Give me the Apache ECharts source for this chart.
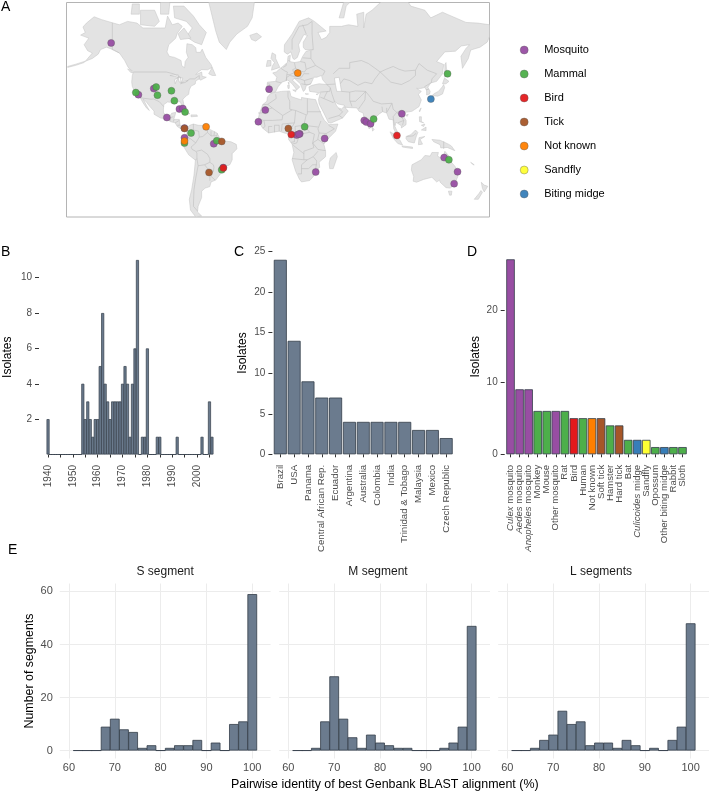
<!DOCTYPE html>
<html><head><meta charset="utf-8">
<style>html,body{margin:0;padding:0;background:#fff}#c{width:709px;height:793px}</style>
<script src="https://cdn.jsdelivr.net/npm/echarts@6/dist/echarts.min.js"></script>
</head><body><div id="c"></div>
<script>
const FONT='"Liberation Sans",Helvetica,Arial,sans-serif';
const SLATE='#6b7b8e', EDGE='#333d49', TICKTXT='#4d4d4d';
const HOST={Mosquito:'#984ea3',Mammal:'#4daf4a',Bird:'#e41a1c',Tick:'#a65628','Not known':'#ff7f00',Sandfly:'#ffff33','Biting midge':'#377eb8'};
const hostNames=Object.keys(HOST);

// sampling sites, [lon, lat]
const sitesMosquito=[[-142,62.7],[-118.8,34.7],[-105.7,38.9],[-83.9,24.1],[-81,24.5],[-94.6,17.4],[-79.6,8.6],[-79.6,0.4],[-54.7,-4.7],[-46.6,-24.2],[-7.6,38.5],[-10.8,23.3],[-16.7,13.9],[15.9,2.7],[18.5,3.8],[17.8,3.5],[39.7,-0.2],[32.1,-27.6],[73.4,15],[75.1,13.7],[78.8,12.3],[105.4,20.4],[141.4,-16.2],[152.8,-27.4],[149.9,-36]];
const sitesMammal=[[-121,36.2],[-103.7,39.9],[-102.6,34.4],[-90.7,37.4],[-88.2,30.4],[-79.1,21.8],[-74,4.4],[-52.1,-2.1],[-79.6,-4.1],[-47.9,-25.9],[22.7,9.7],[81.4,16.1],[144.3,48],[145.4,-18]];
const sitesBird=[[-46.5,-24.5],[11.3,3.2],[101.2,2.4]];
const sitesTick=[[-79.6,8.3],[-47.9,-2.7],[-58.7,-27.9],[8.8,8.3]];
const sitesUnknown=[[-61.2,9.7],[-79.6,-2.4],[16.8,48.4]];
const sitesSandfly=[];
const sitesMidge=[[130.1,31.6]];

const yearLabels=[];for(let y=1940;y<=2006;y++)yearLabels.push(String(y));
const isolatesByYear={1940:2,1954:4,1955:2,1956:3,1957:2,1958:1,1959:2,1960:2,1961:5,1962:8,1963:4,1964:3,1965:2,1966:3,1967:3,1968:3,1969:3,1970:4,1971:5,1972:4,1973:1,1974:4,1975:6,1976:11,1978:1,1979:1,1980:6,1984:1,1985:1,1992:1,2002:1,2005:3,2006:1};

const countries=['Brazil','USA','Panama','Central African Rep.','Ecuador','Argentina','Australia','Colombia','India','Trinidad & Tobago','Malaysia','Mexico','Czech Republic'];
const countryValues=[24,14,9,7,7,4,4,4,4,4,3,3,2];

const hosts=['Culex mosquito','Aedes mosquito','Anopheles mosquito','Monkey','Mouse','Other mosquito','Rat','Bird','Human','Not known','Soft tick','Hamster','Hard tick','Bat','Culicoides midge','Sandfly','Opossum','Other biting midge','Rabbit','Sloth'];
const hostValues=[27,9,9,6,6,6,6,5,5,5,5,4,4,2,2,2,1,1,1,1];
const hostGroups=['Mosquito','Mosquito','Mosquito','Mammal','Mammal','Mosquito','Mammal','Bird','Mammal','Not known','Tick','Mammal','Tick','Mammal','Biting midge','Sandfly','Mammal','Biting midge','Mammal','Mammal'];

const binCentres=[62,64,66,68,70,72,74,76,78,80,82,84,86,88,90,92,94,96,98,100];
const segS=[0,0,0,9,12,8,7,1,2,0,1,2,2,4,0,3,0,10,11,59];
const segM=[0,0,1,11,28,12,5,1,6,3,2,1,1,0,0,0,1,3,9,47];
const segL=[0,0,1,4,6,15,10,11,2,3,3,1,4,2,0,1,0,4,9,48];

// base map, [lon, lat] outlines
const land=[
[[-168,65.6],[-164,66.5],[-166,68.3],[-163,69.5],[-156.5,71.3],[-150,70.5],[-141,69.6],[-135,69],[-128,70],[-120,69.5],[-115,68],[-108,68],[-100,68],[-96,68],[-94,71.5],[-90,69],[-85,69.5],[-81.5,68.5],[-86,66],[-87,64.5],[-93,62],[-94.5,59],[-92.5,57],[-88,56.5],[-82.5,55],[-82,52.5],[-79.5,51.3],[-79,54.5],[-76.5,56.5],[-78,58.8],[-77.5,62.4],[-73,62],[-70,60.8],[-69.5,58.8],[-66,58.8],[-64.5,60.2],[-61.5,56.5],[-57,53],[-56,51.5],[-60,50.2],[-65,50.3],[-68,49],[-70,47.5],[-65,49],[-64.5,46.5],[-61,46],[-66,44.2],[-67,45],[-70,43.8],[-70.5,41.8],[-74,40.5],[-75.5,38],[-76,35],[-78,33.9],[-81,31.5],[-80,27],[-80.5,25.2],[-82,26.5],[-83,29.5],[-85,29.7],[-89,30.2],[-90,29.1],[-94,29.5],[-97.2,27.5],[-97.5,24],[-97.5,21.5],[-95.5,18.7],[-92,18.6],[-90.5,20.8],[-87,21.5],[-88,18],[-88.8,15.9],[-84,15.8],[-83.3,11],[-81.5,9],[-79.5,9.5],[-77.4,8.7],[-78.2,7.5],[-80.3,7.4],[-83,8.3],[-85.8,10],[-87.5,13],[-91.5,14],[-94.5,16.2],[-100,17],[-105.5,20],[-105.5,22.5],[-109,26],[-112.5,30],[-114.7,31.5],[-112,27],[-109.5,23],[-112,25],[-115,29],[-117.2,32.5],[-120.5,34.5],[-122.5,37.7],[-124,40.3],[-124.5,43],[-124,47],[-123,49],[-127.5,51.5],[-130.5,55],[-135,58.5],[-139.5,59.8],[-146,61],[-151,60],[-153,58],[-158,56],[-164,54.6],[-158,58.5],[-162,59.5],[-165,62],[-161,64.5]],
[[-179,51.5],[-172,52.6],[-165,54],[-164,54.7],[-172,53.2],[-179,52]],
[[-61,66.5],[-65,62],[-71,63],[-78,65],[-73,68],[-78,70],[-88,71],[-89,74],[-80,74],[-72,71.5],[-67,69]],
[[-117,69],[-105,68.5],[-101,70],[-105,73],[-117,73]],
[[-125,72],[-118,72],[-118,74.5],[-124,74.5]],
[[-100,72],[-93,72],[-92,75],[-100,76]],
[[-110,75],[-105,75],[-105,78],[-115,78]],
[[-85,76],[-80,74.8],[-92,74.8],[-92,78]],
[[-80,68],[-74,64.5],[-83,64],[-85,66]],
[[-73,78],[-68,76],[-60,76],[-55,70],[-53,67],[-50,63],[-44,60],[-41,63],[-35,66],[-26,68.5],[-22,71],[-20,75],[-18,80],[-60,82]],
[[-59,48],[-56,51.5],[-53,47],[-56,47]],
[[-85,22],[-80,23],[-75,20.5],[-78,20],[-82,22.3]],
[[-74,19.5],[-69,19.5],[-68.5,18.3],[-74,18]],
[[-128,50.7],[-125,50],[-123.5,48.5],[-125.5,48.8]],
[[-24,65.5],[-18,66.3],[-14,65],[-19,63.4],[-22.5,64]],
[[-77.4,8.7],[-75,11],[-72,12],[-68,11],[-62,10.7],[-60,8.5],[-55,6],[-52,4.5],[-50,1],[-48,-1],[-44,-2.5],[-40,-3],[-35.5,-5.2],[-35,-9],[-39,-13],[-39,-18],[-41,-22],[-45,-23.5],[-48.5,-26],[-49,-29],[-53,-33.5],[-57,-34.8],[-58,-38],[-62,-39],[-65,-41],[-65,-45],[-68,-50],[-68.5,-53],[-65,-55],[-70,-55.5],[-74.5,-52],[-75.5,-46],[-73.5,-40],[-71.5,-30],[-70.3,-18.3],[-76,-14],[-81,-6],[-80.5,-2],[-80,1],[-77.5,4],[-77.5,7]],
[[-6,35.8],[3,37],[10,37.3],[11,33.5],[15,32.3],[20,31],[20,32.8],[25,32],[32,31.2],[32.5,30],[35,24],[37.5,18.5],[39.5,15],[43.3,11.5],[51,12],[49,6],[42,-1],[39,-5],[40.5,-11],[40.5,-15.5],[35,-20],[35.5,-24],[32.8,-26],[32,-29],[27,-33.8],[20,-34.8],[18.3,-33],[15,-27],[12,-18],[13.5,-12],[12,-5],[9,-1],[9.5,4],[6,4.3],[1,6],[-4,5.2],[-8,4.5],[-13,8.5],[-17,14.7],[-16,20],[-13,27.5],[-9.5,30],[-9,33]],
[[49.5,-12],[50.5,-15.5],[47,-25],[44,-25],[43.5,-21],[44.5,-16.5]],
[[-9,37],[-9.5,39],[-9,43],[-2,43.5],[-1,46],[-4.5,48.5],[-1.5,49],[2,51],[4,52],[8,54],[8.5,57],[10.5,57.5],[10,54.5],[14,54],[19,54.5],[21,57],[24,59.3],[30,60],[23,60],[21.5,61],[21.5,63],[25,65.5],[22,65.8],[17.5,62],[18.5,59.5],[16.5,56.5],[14,55.5],[12.7,56],[11,59],[8,58],[5.3,59],[5.5,62],[12,66],[18,70],[26,71],[31,70],[41,67],[34,66.5],[37,64],[41,64.8],[44,66.5],[44,68.5],[54,68.5],[60,69],[68,68.5],[67,72],[73,72.5],[73,68],[75,72],[80,73],[90,75.5],[104,77.5],[113,74],[125,73],[130,71],[140,72.5],[160,69.7],[170,69.5],[180,69],[180,65],[178,63],[172,61],[164,59.8],[162,56],[157,51],[155.7,57],[160,60.5],[163,62],[156,61.5],[151,59.3],[142,59],[135,54.5],[141,53],[140,48],[135,43.5],[130,42.5],[127.5,39.8],[129.5,37],[129,35.2],[126.5,34.5],[126.5,37.5],[125,39.6],[121.5,39],[118,39],[122,37],[119.5,35],[122,31],[120,26],[114,22.3],[108.5,21.6],[106,19.5],[109,15],[109,11.5],[105,8.7],[105,10.5],[100.5,13.5],[99.5,10],[103.5,1.5],[101,3],[98.5,8],[98,15.5],[94.5,16],[92.5,21],[89,22],[86.5,20.5],[80.5,15.5],[80,10],[77.5,8],[73,18],[72.5,21],[69,22.3],[67,25],[61,25.2],[57,25.5],[56.5,27],[51,28],[48,30],[50,26.5],[51.5,25],[54,24.2],[56.3,26],[59.8,22.5],[55,17],[45,12.8],[43,13],[39,21],[35,28],[34.5,31.3],[36,36],[31,36.5],[27,37],[26.3,40],[29,41],[35,42],[41.5,41.5],[38,44.5],[37,47],[33,46],[30.5,46],[28,42],[24,40.7],[23,38],[21.5,37],[19.5,41],[19,42],[13.7,45.5],[12.5,44],[18.5,40],[16,38],[12,42],[8.5,44.3],[3.3,43],[0,40],[-2,36.8],[-5.5,36]],
[[-5.5,50],[1.5,51.5],[0,53.5],[-2,56],[-2,57.7],[-5,58.6],[-6,56],[-3,54],[-5,52]],
[[-10,52],[-6,52.3],[-6,55],[-9,55]],
[[131,34],[136,33.7],[140,35.2],[141.8,39.5],[141,41.5],[139.8,40],[136.5,37],[133,35.5]],
[[130,33.5],[131.8,33.5],[131,31],[130.2,31.3]],
[[140,42],[143,42],[145.5,43.5],[141.7,45.5]],
[[142,46],[143.5,49],[143,54],[142,53]],
[[120,22.5],[121.8,25],[120.7,22]],[[108.7,19.2],[110.8,20],[110,18.3]],
[[80,9.5],[81.8,7.5],[80.5,6]],
[[95.3,5.5],[98,4],[104,-2],[106,-5.8],[102,-4.5],[98,0]],
[[105.5,-6.5],[114.5,-7.5],[114.5,-8.7],[106,-7.5]],
[[109,1.5],[113,3],[117,7],[119,5],[117.5,1],[116,-4],[111,-3],[109,-0.5]],
[[119.5,-5.5],[120,0.5],[125,1.5],[121,-1],[123,-5]],
[[120.3,18],[122,18],[122,14],[124,13],[120.5,14]],[[122,7],[126,9.5],[126,6.5]],[[122,11],[125,12],[124,10]],
[[131,-1],[138,-1.7],[145,-5],[147.5,-6.5],[150.5,-10.5],[144,-7.8],[138.5,-8.2],[138,-5.5],[132.5,-3]],
[[114,-22],[122,-18],[125,-14.5],[129.5,-15],[131,-12],[136.5,-12],[135.8,-15],[140,-17.5],[142,-11],[145.5,-15],[146.5,-19],[150,-22.5],[153.5,-27],[153,-31],[150,-37],[146.5,-39],[143,-38.7],[138,-35],[137.5,-33.5],[135,-34.8],[131,-31.5],[124,-33],[118,-35],[115,-34.3],[115.5,-31],[113.5,-26]],
[[145,-41],[148,-41],[147.5,-43.5],[146,-43.5]],
[[173,-35],[175.5,-37],[178.5,-37.8],[175.5,-41.5],[174,-39.3]],
[[172.7,-40.6],[174,-41.7],[170.5,-46],[167,-46],[171,-42.5]],
[[52,71],[56,71],[58,74],[68,76.5],[56,75]],
[[164,-20],[167,-22],[166,-22]],[[12.5,38],[15.5,38],[15,36.7]],[[8.2,41],[9.7,41],[9.5,39],[8.5,39]],
[[8.6,43],[9.5,42.8],[9.3,41.4]],[[23,35.4],[26,35.2],[24,35]],[[32.4,35],[34.5,35.6],[33.5,34.6]]
];
const water=[[[50,37],[54,37],[53,42],[52,46],[48,45.5],[49,41]],[[-92,47],[-85,47.5],[-84.5,46],[-88,46.5]],[[-87.5,42],[-85,46],[-84,43],[-82,43],[-81,45.5],[-85,45.8],[-88,44.5]],[[-83,42],[-79,42.8],[-76.5,44],[-80,43.5]]];
const borders=[
[[-123,49],[-95,49],[-89,48],[-83,46],[-82.5,42.5],[-79,43],[-75,45],[-71,45],[-67,47],[-67,45]],[[-141,69.6],[-141,60],[-135,58.5]],[[-117.2,32.5],[-108,31.5],[-106,31.7],[-101,29.7],[-97.3,26]],[[-92,14.5],[-91,17.5],[-89,18]],[[-89,14],[-88.5,15.8]],[[-87.5,13],[-84,15]],[[-85.7,11],[-83.6,11]],[[-83,8.3],[-82.5,9.5]],[[-77.4,8.7],[-77.5,7]],
[[-72,12],[-72,7],[-67.5,6],[-67,1]],[[-67,1],[-70,-4],[-75,0],[-78.5,1.2]],[[-75,0],[-78.5,-4.5],[-80.3,-3.4]],[[-67,1],[-64,1.5],[-60,5],[-60,8.5]],[[-60,5],[-57,2],[-52,2.2],[-51.5,4.3]],[[-57,2],[-57,6]],[[-54.5,2.3],[-54,5.8]],[[-70,-4],[-74,-7.5],[-73,-9.5],[-70,-11],[-69,-12.5],[-69,-17],[-70.3,-18.3]],[[-69.5,-11],[-65,-10],[-60,-13.5],[-58,-17],[-58,-20]],[[-69,-17],[-68,-22.8],[-62.5,-22],[-58,-20]],[[-62.5,-22],[-58,-27],[-55,-27],[-54.5,-24],[-55,-22],[-58,-20]],[[-68,-22.8],[-70,-32],[-71.5,-40],[-72,-50],[-68.5,-52.5]],[[-58,-34],[-58,-30],[-53.5,-33.5]],[[-55,-27],[-58,-30]],
[[-2,35],[-1.5,32],[-8.7,27.7]],[[-13,27.5],[-8.7,27.7],[-5,25],[-12,23],[-13,21],[-17,21]],[[-5,25],[4,19],[3.5,15.5],[-5,15],[-12,15],[-16.5,16]],[[8.5,33],[10,30],[10,24],[12,23.5],[4,19]],[[8.5,37],[8.5,33]],[[25,32],[25,20]],[[25,22],[36.5,22]],[[12,23.5],[15,23],[24,19.5],[25,20]],[[15,23],[14,13]],[[3.5,12],[14,13]],[[24,19.5],[22,11]],[[14.5,10],[22,11],[27,5],[18.5,3.5],[15,2],[14.5,10]],[[14,13],[9,4.5]],[[3,6.3],[3.5,12]],[[-3,5],[-3,11],[1,11],[1,6]],[[-8,4.5],[-8,10],[-5,10]],[[-12,15],[-11,10],[-13,8.5]],[[36.5,14.5],[34,8],[35,4.5]],[[22,11],[34,9.5]],[[41,-1.7],[41,4],[35,4.5],[34,0],[34,-1],[39,-4.7]],[[43,11],[48,8],[41,4]],[[27,5],[31,3.5],[29.5,-4],[30.5,-8],[22,-11],[22,-13],[13,-6]],[[18.5,3.5],[16,-4],[12,-5]],[[9.5,2],[14,2],[14,-3],[11,-3.5]],[[34,-1],[29.5,-4],[34,-9.5],[40.5,-10.5]],[[22,-13],[22,-18],[12,-17]],[[22,-18],[25,-18],[30,-15.5],[34,-11]],[[30,-15.5],[33,-19],[32,-26]],[[17,-29],[20,-29],[20,-22],[25,-18]],[[20,-25],[26,-25],[29.5,-22],[33,-22]],
[[-1.8,43.4],[3,42.5]],[[-8.8,42],[-7,41.8],[-7,37.3]],[[2.5,51],[6,49.5],[8,49],[7.5,47.5],[7,44]],[[14,54],[15,51],[12.5,50.3],[13.5,48.5],[10,47.5],[7.5,47.5]],[[8.7,55],[10,54.8]],[[4.5,51.5],[7,52.5],[7,53.5]],[[19,54.5],[23,54],[24,50.5],[22.5,49],[19,49.5],[15,51]],[[7,44],[7.5,46],[10,47],[13.7,46.5]],[[13.5,48.5],[17,48.5],[16.5,46.8],[13.7,46.5]],[[19,49.5],[17,48.5]],[[22.5,48.5],[20,46],[16.5,46.5]],[[13.7,45.5],[19,45],[22.5,44],[29.5,45.5]],[[20,42],[23,41.5],[26.3,41.5],[28,42]],[[22.5,44],[23,41.5]],[[26.5,48],[22.5,48]],[[28,59.5],[28,56],[32,52.5],[40,49.5],[38,47]],[[24,50.5],[32,52.5]],[[21,56.3],[28,56]],[[30,60],[29,66],[29,70]],[[12,60],[12,64],[18,68.5],[25,69],[29,70]],[[24,66],[21,69]],
[[47,48],[52,51],[61,51],[61,54],[71,55],[77,53.5],[87,49]],[[87,49],[92,50.5],[98,52],[103,50.5],[108,49.5],[117,50],[120,53.5],[127,50],[135,48],[131,45],[130.5,42.5]],[[87,49],[96,43],[105,41.5],[112,44],[117,47],[117,50]],[[53,42],[56,45],[61,44],[68,41],[74,43],[80,42],[82.5,45],[87,49]],[[41.5,41.5],[48.5,41.8]],[[36,36.5],[44,37],[44.5,39.5],[41.5,41.5]],[[44.5,39.5],[46,35],[48,30]],[[54,37],[61,36.5],[61,31],[63,26]],[[61,36.5],[66,37.3],[74.5,37],[71,34],[66,30],[61,30]],[[74.5,37],[74,31],[70,26],[68.5,24]],[[74.5,37],[79,32.5],[81,30],[88,28],[97,28.5],[93,22]],[[88.5,26],[89,22]],[[92.5,25],[92.5,21]],[[97,28.5],[98,24],[101,21.5]],[[101,21.5],[106,23],[108,21.6]],[[101,21.5],[105,18],[107,15],[106,11]],[[101,21.5],[98,18],[99,11]],[[102,13],[107,15]],[[39,32],[47,29],[48,30]],[[36,33],[39,32],[42,37]],[[43,16.5],[52,19],[55,22],[51.5,24.5]],[[52,19],[55,17]],[[124.5,40],[130,42.5]],[[126,38],[128.3,38.5]],[[141,-2.6],[141,-9]],[[109.7,1.5],[115,2],[117.5,4.2]]
];

const merc=lat=>Math.log(Math.tan(Math.PI/4+lat*Math.PI/360))*180/Math.PI;
const mapPoint=p=>[p[0],merc(p[1])];

function shapeSeries(id,list,kind){
  return {type:'custom',id,xAxisIndex:0,yAxisIndex:0,silent:true,clip:true,z:1,
    data:list.map((l,i)=>[i,0]),encode:{x:0,y:1},
    renderItem(params,api){
      const pts=list[params.dataIndex].map(p=>api.coord(mapPoint(p)));
      if(kind==='line')return {type:'polyline',shape:{points:pts},style:{fill:null,stroke:'#bdbdbd',lineWidth:0.6}};
      return {type:'polygon',shape:{points:pts},style:kind==='water'?{fill:'#fff',stroke:'#bdbdbd',lineWidth:0.5}:{fill:'#e3e3e3',stroke:'#c2c2c2',lineWidth:0.5}};
    }};
}
function siteSeries(name,pts){
  return {type:'scatter',name,xAxisIndex:0,yAxisIndex:0,data:pts.map(mapPoint),symbolSize:7,z:5,silent:true,
    itemStyle:{color:HOST[name],borderColor:'#5a5a5a',borderWidth:0.4,opacity:0.95}};
}

const txt={fontFamily:FONT,color:TICKTXT};
const hidden={show:false};
const grids=[
  {left:66.5,top:2.5,width:423,height:214.5,show:true,borderColor:'#b4b4b4',borderWidth:1,backgroundColor:'#fff'},
  {left:46.8,top:260,width:166.4,height:194.5},
  {left:273.4,top:251.7,width:179.7,height:202.6},
  {left:506,top:259.3,width:181,height:195},
  {left:59.8,top:583.5,width:210.8,height:175},
  {left:279.2,top:583.5,width:210.8,height:175},
  {left:498.2,top:583.5,width:210.8,height:175}
].map(g=>Object.assign(g,{outerBoundsMode:'none'}));
const xTick=extra=>Object.assign({show:true,length:3,alignWithLabel:true,lineStyle:{color:'#333',width:1}},extra||{});
const catAxis=(gridIndex,data,extra)=>Object.assign({type:'category',gridIndex,data,offset:4,
  axisLine:hidden,axisTick:xTick(),
  axisLabel:Object.assign({},txt,{rotate:90,margin:6.5,interval:0,fontSize:9.7})},extra||{});
const countAxis=(gridIndex,name,gap,max,ticks,off)=>({type:'value',gridIndex,min:0,max,offset:off,name,nameLocation:'middle',nameGap:gap,
  nameTextStyle:{fontFamily:FONT,color:'#000',fontSize:12},splitLine:hidden,axisLine:hidden,
  axisTick:{show:true,length:4,customValues:ticks,lineStyle:{color:'#333',width:1}},
  axisLabel:Object.assign({},txt,{fontSize:10,margin:7,customValues:ticks})});
const facetX=i=>({type:'value',gridIndex:i,min:58,max:104,axisLine:hidden,
  axisTick:{show:false,customValues:[60,70,80,90,100]},
  axisLabel:Object.assign({},txt,{fontSize:11,margin:4,customValues:[60,70,80,90,100]}),
  splitLine:{show:true,lineStyle:{color:'#ececec',width:1}}});
const facetY=(i,showLabels)=>({type:'value',gridIndex:i,min:-3,max:63,axisLine:hidden,
  axisTick:{show:false,customValues:[0,20,40,60]},
  axisLabel:Object.assign({},txt,{show:showLabels,fontSize:11,margin:7,customValues:[0,20,40,60]}),
  splitLine:{show:true,lineStyle:{color:'#ececec',width:1}},
  name:showLabels?'Number of segments':'',nameLocation:'middle',nameGap:24,nameTextStyle:{fontFamily:FONT,color:'#000',fontSize:12.4}});
const hist=(i,vals)=>({type:'bar',xAxisIndex:i,yAxisIndex:i,barWidth:9.7,silent:true,
  data:binCentres.map((c,k)=>[c,vals[k]]),itemStyle:{color:SLATE,borderColor:EDGE,borderWidth:0.8}});
const italicLabel=v=>{
  const m=v.match(/^(Culex|Aedes|Anopheles|Culicoides) (.*)$/);
  return m?'{i|'+m[1]+'} {n|'+m[2]+'}':'{n|'+v+'}';
};
const T=(left,top,text,size,extra)=>Object.assign({type:'text',left,top,style:{text,fontFamily:FONT,fontSize:size,fill:'#000'}},extra||{});

const option={
  animation:false,backgroundColor:'#fff',textStyle:{fontFamily:FONT},
  grid:grids,
  title:[['S segment',165.2],['M segment',378],['L segments',601]].map(([text,left])=>({text,left,top:566,textAlign:'center',padding:0,textStyle:{fontFamily:FONT,fontSize:12,fontWeight:'normal',color:'#1a1a1a'}})),
  legend:{show:true,orient:'vertical',left:520,top:43.5,padding:0,icon:'circle',itemWidth:8,itemHeight:8,itemGap:11,data:hostNames,selectedMode:false,
    itemStyle:{borderWidth:0.4,borderColor:'#5a5a5a'},
    textStyle:{fontFamily:FONT,fontSize:11,color:'#000',padding:[0,0,0,11],lineHeight:13}},
  xAxis:[
    {type:'value',gridIndex:0,min:-180,max:180,show:false},
    catAxis(1,yearLabels,{axisTick:xTick({interval:(i,v)=>+v%5===0}),
      axisLabel:Object.assign({},txt,{rotate:90,margin:6.5,fontSize:10,interval:(i,v)=>+v%10===0})}),
    catAxis(2,countries),
    catAxis(3,hosts,{axisLabel:Object.assign({},txt,{rotate:90,margin:6.5,interval:0,fontSize:9.6,
      formatter:italicLabel,rich:{i:{fontStyle:'italic',fontFamily:FONT,fontSize:9.6,color:TICKTXT},n:{fontFamily:FONT,fontSize:9.6,color:TICKTXT}}})}),
    facetX(4),facetX(5),facetX(6)
  ],
  yAxis:[
    {type:'value',gridIndex:0,min:-67,max:115.5,show:false},
    countAxis(1,'Isolates',25,11,[2,4,6,8,10],7.8),
    countAxis(2,'Isolates',23.5,25,[0,5,10,15,20,25],1),
    countAxis(3,'Isolates',23,27,[0,10,20],1.3),
    facetY(4,true),facetY(5,false),facetY(6,false)
  ],
  series:[
    shapeSeries('land',land,'poly'),shapeSeries('water',water,'water'),shapeSeries('borders',borders,'line'),
    siteSeries('Mosquito',sitesMosquito),siteSeries('Mammal',sitesMammal),siteSeries('Bird',sitesBird),siteSeries('Tick',sitesTick),
    siteSeries('Not known',sitesUnknown),siteSeries('Sandfly',sitesSandfly),siteSeries('Biting midge',sitesMidge),
    {type:'bar',xAxisIndex:1,yAxisIndex:1,barWidth:3,silent:true,data:yearLabels.map(y=>isolatesByYear[y]||0),itemStyle:{color:SLATE,borderColor:EDGE,borderWidth:0.7}},
    {type:'bar',xAxisIndex:2,yAxisIndex:2,barCategoryGap:'6%',silent:true,data:countryValues,itemStyle:{color:SLATE,borderColor:EDGE,borderWidth:0.8}},
    {type:'bar',xAxisIndex:3,yAxisIndex:3,barCategoryGap:'6%',silent:true,data:hostValues.map((v,i)=>({value:v,itemStyle:{color:HOST[hostGroups[i]]}})),itemStyle:{borderColor:EDGE,borderWidth:0.8}},
    hist(4,segS),hist(5,segM),hist(6,segL)
  ],
  graphic:[
    T(1,0,'A',14),T(1,245,'B',14),T(234,245,'C',14),T(467,245,'D',14),T(8,543,'E',14),
    {type:'text',left:231,top:779,style:{text:'Pairwise identity of best Genbank BLAST alignment (%)',fontFamily:FONT,fontSize:12.45,fill:'#000'}}
  ]
};
const chart=echarts.init(document.getElementById('c'),null,{renderer:'canvas',width:709,height:793});
chart.setOption(option);
</script></body></html>
